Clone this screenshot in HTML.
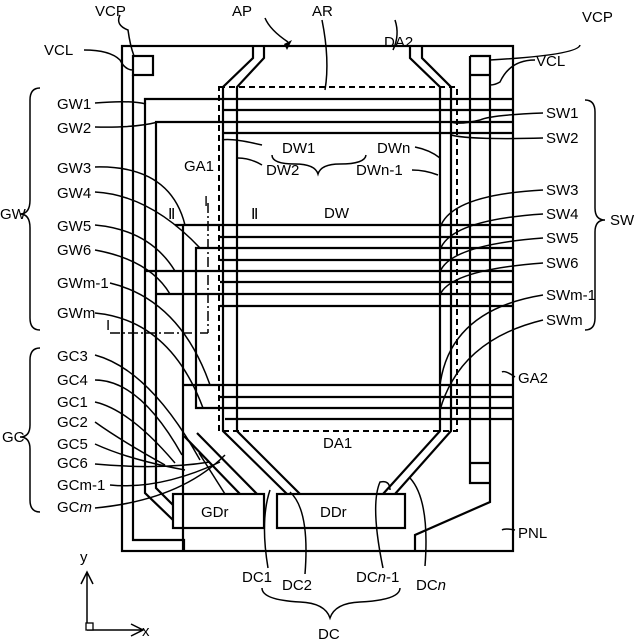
<!DOCTYPE html>
<html><head><meta charset="utf-8"><style>html,body{margin:0;padding:0;background:#fff}svg{display:block}</style></head><body>
<svg width="635" height="641" viewBox="0 0 635 641" xmlns="http://www.w3.org/2000/svg" font-family="Liberation Sans, sans-serif" font-size="15" fill="#000">
<g fill="none" stroke="#000" stroke-width="2.2">
<rect x="122" y="46" width="391" height="505"/>
<polyline points="133,75 133,540 184,540 184,551"/>
<rect x="133" y="56" width="20" height="19"/>
<polyline points="470,56 490,56 490,502 415,535 415,551"/>
<polyline points="470,56 470,483 490,483"/>
<line x1="470" y1="463" x2="490" y2="463"/>
<line x1="470" y1="75" x2="490" y2="75"/>
<polyline points="253,46 253,58 223,87 223,431 287,494"/>
<polyline points="264,46 264,58 237,87 237,431 300,494"/>
<polyline points="410,46 410,58 440,87 440,431 383,494"/>
<polyline points="422,46 422,58 451,87 451,431 395,494"/>
<rect x="173" y="494" width="91" height="34" fill="#fff"/>
<rect x="277" y="494" width="128" height="34" fill="#fff"/>
<polyline points="513,99 145,99 145,493 173,520"/>
<polyline points="513,122 156,122 156,488 173,505"/>
<line x1="223" y1="110" x2="513" y2="110"/>
<line x1="223" y1="133" x2="513" y2="133"/>
<polyline points="175,225 183,225 183,551"/>
<line x1="183" y1="225" x2="513" y2="225"/>
<line x1="220" y1="237" x2="513" y2="237"/>
<polyline points="513,248 196,248 196,408 513,408"/>
<line x1="220" y1="260" x2="513" y2="260"/>
<line x1="145" y1="271" x2="513" y2="271"/>
<line x1="220" y1="282" x2="513" y2="282"/>
<line x1="157" y1="294" x2="513" y2="294"/>
<line x1="220" y1="306" x2="513" y2="306"/>
<line x1="184" y1="385" x2="513" y2="385"/>
<line x1="220" y1="397" x2="513" y2="397"/>
<line x1="225" y1="419" x2="513" y2="419"/>
<line x1="197" y1="433" x2="257" y2="494"/>
<line x1="184" y1="436" x2="240" y2="494"/>
<line x1="199" y1="453" x2="225" y2="494" stroke-width="1.5"/>
</g>
<rect x="219" y="87" width="238" height="344" fill="none" stroke="#000" stroke-width="2" stroke-dasharray="6,4"/>
<g stroke="#000" stroke-width="1.5" fill="none">
<line x1="208" y1="203" x2="208" y2="333" stroke-dasharray="10,3,2,3"/>
<line x1="110" y1="333" x2="208" y2="333" stroke-dasharray="10,3,2,3"/>
<line x1="175" y1="225" x2="262" y2="225"/>
<path d="M120,15 Q115,25 128,30 Q130,45 134,56"/>
<path d="M84,50 Q110,50 120,60 Q125,70 133,70"/>
<path d="M95,103 Q130,100 146,104"/>
<path d="M95,127 Q135,128 158,122"/>
<path d="M95,167 Q170,165 185,225"/>
<path d="M95,192 Q150,195 200,248"/>
<path d="M95,225 Q150,230 175,271"/>
<path d="M95,250 Q150,260 170,294"/>
<path d="M110,283 Q180,300 210,385"/>
<path d="M95,313 Q170,320 203,408"/>
<path d="M95,355 Q150,370 200,460"/>
<path d="M95,380 Q140,380 182,455"/>
<path d="M95,402 Q130,410 175,463"/>
<path d="M95,422 Q120,440 165,465"/>
<path d="M95,444 Q130,460 185,470"/>
<path d="M95,464 Q160,470 210,462"/>
<path d="M110,485 Q160,490 220,462"/>
<path d="M95,508 Q180,500 225,455"/>
<path d="M580,45 Q578,55 490,60"/>
<path d="M535,60 Q510,60 500,82 Q495,85 490,85"/>
<path d="M543,113 Q490,115 480,120 Q460,125 451,122"/>
<path d="M543,138 Q470,140 451,135"/>
<path d="M543,190 Q450,195 440,228"/>
<path d="M543,214 Q450,220 440,250"/>
<path d="M543,238 Q450,245 440,272"/>
<path d="M543,263 Q450,270 440,295"/>
<path d="M543,295 Q450,310 440,385"/>
<path d="M543,320 Q460,340 440,410"/>
<path d="M515,377 Q505,370 502,372"/>
<path d="M515,530 Q505,528 502,530"/>
<path d="M222,140 Q232,138 262,145"/>
<path d="M238,158 Q250,158 262,165"/>
<path d="M415,147 Q430,150 440,158"/>
<path d="M412,170 Q425,170 438,175"/>
<path d="M325,90 Q330,60 322,20"/>
<path d="M393,50 Q400,35 395,20"/>
<path d="M265,18 Q270,30 288,42"/>
<path d="M268,568 Q260,520 270,490"/>
<path d="M305,574 Q310,510 290,492"/>
<path d="M383,568 Q370,505 380,482 Q390,480 390,490"/>
<path d="M425,566 Q430,500 410,478"/>
<path d="M262,588 Q262,600 300,602 Q325,603 330,618 Q335,603 360,602 Q400,600 400,588"/>
<path d="M272,155 Q272,164 295,164 Q315,164 318,174 Q321,164 340,164 Q365,164 366,155"/>
<path d="M40,88 Q30,88 30,100 L30,200 Q30,214 20,214 Q30,214 30,228 L30,318 Q30,330 40,330"/>
<path d="M40,348 Q30,348 30,360 L30,425 Q30,437 20,437 Q30,437 30,449 L30,500 Q30,512 40,512"/>
<path d="M585,100 Q595,100 595,112 L595,208 Q595,220 605,220 Q595,220 595,232 L595,318 Q595,330 585,330"/>
<path d="M87,630 L87,573 M81,584 L87,572 L93,584"/>
<path d="M87,630 L142,630 M131,624 L143,630 L131,636"/>
</g>
<path d="M284,44 L292,40 L287,50 Z"/>
<rect x="86" y="623" width="7" height="7" fill="#fff" stroke="#000" stroke-width="1.3"/>
<g>
<text x="95" y="16">VCP</text><text x="44" y="55">VCL</text>
<text x="57" y="109">GW1</text><text x="57" y="133">GW2</text><text x="57" y="173">GW3</text><text x="57" y="198">GW4</text>
<text x="57" y="231">GW5</text><text x="57" y="255">GW6</text><text x="57" y="288">GWm-1</text><text x="57" y="318">GWm</text>
<text x="106" y="330">I</text>
<text x="57" y="361">GC3</text><text x="57" y="385">GC4</text><text x="57" y="407">GC1</text><text x="57" y="427">GC2</text>
<text x="57" y="449">GC5</text><text x="57" y="468">GC6</text><text x="57" y="490">GCm-1</text><text x="57" y="512">GC<tspan font-style="italic">m</tspan></text>
<text x="0" y="219">GW</text><text x="2" y="442">GC</text>
<text x="582" y="22">VCP</text><text x="536" y="66">VCL</text>
<text x="546" y="118">SW1</text><text x="546" y="143">SW2</text><text x="546" y="195">SW3</text><text x="546" y="219">SW4</text>
<text x="546" y="243">SW5</text><text x="546" y="268">SW6</text><text x="546" y="300">SWm-1</text><text x="546" y="325">SWm</text>
<text x="610" y="225">SW</text><text x="518" y="383">GA2</text><text x="518" y="538">PNL</text>
<text x="232" y="16">AP</text><text x="312" y="16">AR</text><text x="384" y="47">DA2</text>
<text x="184" y="171">GA1</text><text x="282" y="153">DW1</text><text x="266" y="175">DW2</text>
<text x="377" y="153">DWn</text><text x="356" y="175">DWn-1</text><text x="324" y="218">DW</text>
<text x="168" y="219">Ⅱ</text><text x="251" y="219">Ⅱ</text><text x="204" y="206">I</text>
<text x="323" y="448">DA1</text><text x="201" y="517">GDr</text><text x="320" y="517">DDr</text>
<text x="242" y="582">DC1</text><text x="282" y="590">DC2</text><text x="356" y="582">DC<tspan font-style="italic">n</tspan>-1</text><text x="416" y="590">DC<tspan font-style="italic">n</tspan></text>
<text x="318" y="639">DC</text><text x="80" y="562">y</text><text x="142" y="636">x</text>
</g>
</svg>
</body></html>
